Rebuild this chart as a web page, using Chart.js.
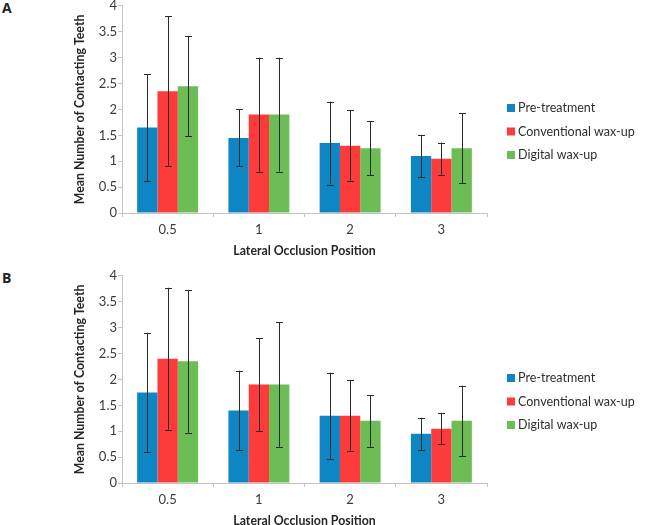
<!DOCTYPE html>
<html>
<head>
<meta charset="utf-8">
<script src="https://cdn.jsdelivr.net/npm/chart.js@4.4.0/dist/chart.umd.min.js"></script>
<style>
  html, body { margin:0; padding:0; background:#fff; width:648px; height:525px; overflow:hidden; }
  .panel { position:absolute; left:0; width:648px; height:262px; }
  .lbl { position:absolute; left:2px; font: bold 14px "Open Sans", sans-serif; color:#222; }
</style>
</head>
<body>
<div class="lbl" style="top:-2px">A</div>
<div class="lbl" style="top:268px">B</div>
<div class="panel" style="top:0"><canvas id="cA" width="648" height="262"></canvas></div>
<div class="panel" style="top:270px"><canvas id="cB" width="648" height="262"></canvas></div>
<script>
const categories = ['0.5', '1', '2', '3'];
const seriesNames = ['Pre-treatment', 'Conventional wax-up', 'Digital wax-up'];
const yTicks = [0, 0.5, 1, 1.5, 2, 2.5, 3, 3.5, 4];

// Panel A
const preA  = [1.65, 1.45, 1.35, 1.10];
const convA = [2.35, 1.90, 1.30, 1.05];
const digA  = [2.45, 1.90, 1.25, 1.25];
const preAErr  = [1.03, 0.55, 0.80, 0.41];
const convAErr = [1.45, 1.10, 0.68, 0.31];
const digAErr  = [0.97, 1.10, 0.52, 0.68];

// Panel B
const preB  = [1.75, 1.40, 1.30, 0.95];
const convB = [2.40, 1.90, 1.30, 1.05];
const digB  = [2.35, 1.90, 1.20, 1.20];
const preBErr  = [1.15, 0.77, 0.83, 0.31];
const convBErr = [1.37, 0.90, 0.68, 0.30];
const digBErr  = [1.38, 1.20, 0.50, 0.68];

const colors = ['#0f86c4', '#fd3b3b', '#6cbd55'];
const axisColor = '#c4c4c4';
const textColor = '#3a3a3a';
const FONT = 'Lato, "Open Sans", sans-serif';

const errorBarPlugin = {
  id: 'errorBars',
  afterDatasetsDraw(chart) {
    const ctx = chart.ctx;
    const yScale = chart.scales.y;
    ctx.save();
    ctx.strokeStyle = '#2a2a2a';
    ctx.lineWidth = 1;
    chart.data.datasets.forEach((ds, di) => {
      const meta = chart.getDatasetMeta(di);
      meta.data.forEach((bar, i) => {
        const v = ds.data[i], e = ds.errors[i];
        const x = Math.round(bar.x) + 0.5;
        const yt = yScale.getPixelForValue(v + e);
        const yb = yScale.getPixelForValue(v - e);
        const cap = 3.5;
        ctx.beginPath();
        ctx.moveTo(x, yt); ctx.lineTo(x, yb);
        ctx.moveTo(x - cap, Math.round(yt) + 0.5); ctx.lineTo(x + cap, Math.round(yt) + 0.5);
        ctx.moveTo(x - cap, Math.round(yb) + 0.5); ctx.lineTo(x + cap, Math.round(yb) + 0.5);
        ctx.stroke();
      });
    });
    ctx.restore();
  }
};

const legendPlugin = {
  id: 'sideLegend',
  afterDraw(chart) {
    const ctx = chart.ctx;
    ctx.save();
    ctx.font = '12.5px ' + FONT;
    ctx.textBaseline = 'middle';
    ctx.textAlign = 'left';
    const x0 = 507, yc = 131.5, gap = 23.5;
    chart.data.datasets.forEach((ds, i) => {
      const y = yc + (i - 1) * gap;
      ctx.fillStyle = ds.backgroundColor;
      ctx.fillRect(x0, y - 4, 8, 8);
      ctx.fillStyle = '#2e2e2e';
      ctx.fillText(ds.label, x0 + 11, y);
    });
    ctx.restore();
  }
};

function makeChart(id, vals, errs) {
  new Chart(document.getElementById(id), {
    type: 'bar',
    data: {
      labels: categories,
      datasets: seriesNames.map((n, i) => ({
        label: n,
        data: vals[i],
        errors: errs[i],
        backgroundColor: colors[i],
        borderWidth: 0,
        categoryPercentage: 0.668,
        barPercentage: 1.0
      }))
    },
    options: {
      responsive: false,
      animation: false,
      layout: { padding: { top: 5, left: 70, right: 161, bottom: 4 } },
      plugins: { legend: { display: false }, tooltip: { enabled: false } },
      scales: {
        x: {
          grid: { display: true, drawOnChartArea: false, offset: true, tickLength: 4, color: axisColor },
          border: { color: axisColor },
          ticks: { color: textColor, font: { family: FONT, size: 13 }, padding: 5 },
          title: { display: true, text: 'Lateral Occlusion Position', color: '#262626',
                   font: { family: FONT, size: 12.3, weight: 'bold' }, padding: { top: 2, bottom: 0 } },
          afterFit(s) { s.height = 45; }
        },
        y: {
          min: 0, max: 4,
          afterBuildTicks(s) { s.ticks = yTicks.map(v => ({ value: v })); },
          grid: { display: true, drawOnChartArea: false, tickLength: 4, color: axisColor },
          border: { color: axisColor },
          ticks: { color: textColor, font: { family: FONT, size: 13, lineHeight: 0.75 }, padding: 1,
                   callback: v => String(v) },
          title: { display: true, text: 'Mean Number of Contacting Teeth', color: '#262626',
                   font: { family: FONT, size: 12.3, weight: 'bold' }, padding: { top: 3, bottom: 4 } },
          afterFit(s) { s.width = 52; }
        }
      }
    },
    plugins: [errorBarPlugin, legendPlugin]
  });
}

makeChart('cA', [preA, convA, digA], [preAErr, convAErr, digAErr]);
makeChart('cB', [preB, convB, digB], [preBErr, convBErr, digBErr]);
</script>
</body>
</html>
